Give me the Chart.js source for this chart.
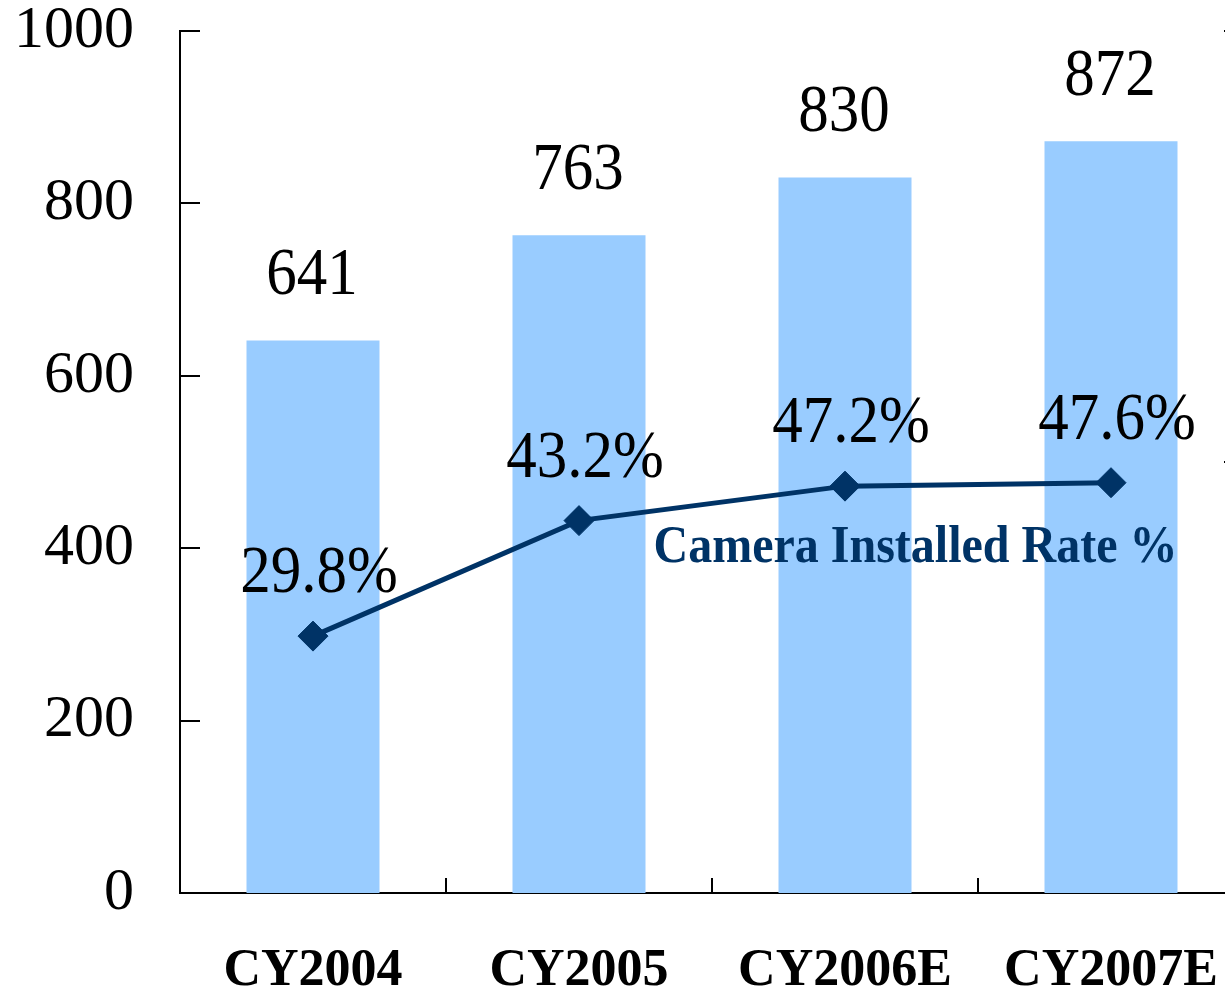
<!DOCTYPE html>
<html>
<head>
<meta charset="utf-8">
<script src="https://cdn.jsdelivr.net/npm/chart.js@4/dist/chart.umd.min.js"></script>
<style>
	html, body { margin: 0; padding: 0; overflow: hidden; background: #fff; }
	#chart-camera { position: absolute; left: 0; top: 0; }
</style>
</head>
<body>
<canvas id="chart-camera" width="1262" height="989"></canvas>
<script>
'use strict';

//
// Data
//

var categories = ['CY2004', 'CY2005', 'CY2006E', 'CY2007E'];
var shipments = [641, 763, 830, 872];
var cameraRate = [29.8, 43.2, 47.2, 47.6];
var leftTicks = [0, 200, 400, 600, 800, 1000];
var rightTicks = [0, 50, 100];
var rateLabel = 'Camera Installed Rate %';

var barColor = '#99CCFF';
var lineColor = '#003366';
var serif = '"Liberation Serif", "Times New Roman", serif';

//
// Inward tick marks (the chart draws them on the inner side of the axes)
//

var innerTicks = {
	id: 'innerTicks',
	afterDatasetsDraw: function(chart) {
		var ctx = chart.ctx;
		var x = chart.scales.x, y = chart.scales.y, y1 = chart.scales.y1;
		ctx.save();
		ctx.strokeStyle = '#000';
		ctx.lineWidth = 2;
		ctx.beginPath();
		leftTicks.forEach(function(v) {
			var py = Math.round(y.getPixelForValue(v));
			ctx.moveTo(x.left, py);
			ctx.lineTo(x.left + 20, py);
		});
		rightTicks.forEach(function(v) {
			var py = Math.round(y1.getPixelForValue(v));
			ctx.moveTo(x.right, py);
			ctx.lineTo(x.right - 20, py);
		});
		for (var i = 0; i < categories.length - 1; i++) {
			var px = Math.round((x.getPixelForValue(i) + x.getPixelForValue(i + 1)) / 2);
			ctx.moveTo(px, y.bottom);
			ctx.lineTo(px, y.bottom - 15);
		}
		ctx.stroke();
		ctx.restore();
	}
};

//
// Value labels (the original text is a bit taller than wide, so stretch it a little)
//

function tallText(ctx, text, x, y) {
	ctx.save();
	ctx.translate(x, y);
	ctx.scale(1, 1.12);
	ctx.fillText(text, 0, 0);
	ctx.restore();
}

var valueLabels = {
	id: 'valueLabels',
	afterDatasetsDraw: function(chart) {
		var ctx = chart.ctx;
		var lineMeta = chart.getDatasetMeta(0);
		var barMeta = chart.getDatasetMeta(1);
		ctx.save();
		ctx.textAlign = 'center';
		ctx.textBaseline = 'middle';
		ctx.fillStyle = '#000';
		ctx.font = '61px ' + serif;

		barMeta.data.forEach(function(bar, i) {
			tallText(ctx, String(shipments[i]), bar.x - 1, bar.y - 64);
		});
		lineMeta.data.forEach(function(pt, i) {
			tallText(ctx, cameraRate[i].toFixed(1) + '%', pt.x + 6, pt.y - 62);
		});

		var x = chart.scales.x, y = chart.scales.y;
		ctx.font = 'bold 48px ' + serif;
		ctx.fillStyle = lineColor;
		tallText(ctx, rateLabel, x.getPixelForValue(2.265), y.getPixelForValue(400));
		ctx.restore();
	}
};

function noPadding(scale) {
	scale.paddingTop = 0;
	scale.paddingBottom = 0;
	scale.paddingLeft = 0;
	scale.paddingRight = 0;
}

//
// Chart
//

var CameraChart = (function() {

	var $chart = document.getElementById('chart-camera');

	function init($this) {
		return new Chart($this, {
			data: {
				labels: categories,
				datasets: [{
					type: 'line',
					label: rateLabel,
					data: cameraRate,
					yAxisID: 'y1',
					borderColor: lineColor,
					borderWidth: 5,
					pointStyle: 'rectRot',
					pointRadius: 15,
					pointBackgroundColor: lineColor,
					pointBorderColor: lineColor,
					pointBorderWidth: 1,
					tension: 0,
					order: 0
				}, {
					type: 'bar',
					label: 'Shipments',
					data: shipments,
					yAxisID: 'y',
					backgroundColor: barColor,
					barPercentage: 0.5,
					categoryPercentage: 1.0,
					order: 1
				}]
			},
			options: {
				responsive: false,
				animation: false,
				layout: { padding: { top: 31, right: 0, left: 0, bottom: 0 } },
				plugins: {
					legend: { display: false },
					tooltip: { enabled: false }
				},
				scales: {
					x: {
						offset: true,
						grid: { display: false, drawTicks: false },
						border: { display: true, color: '#000', width: 2 },
						ticks: {
							color: '#000',
							padding: 47,
							font: { family: serif, size: 52, weight: 'bold' }
						},
						afterFit: function(scale) { noPadding(scale); scale.height = 96; }
					},
					y: {
						position: 'left',
						min: 0,
						max: 1000,
						afterBuildTicks: function(scale) {
							scale.ticks = leftTicks.map(function(v) { return { value: v }; });
						},
						grid: { display: false, drawTicks: false },
						border: { display: true, color: '#000', width: 2 },
						ticks: {
							color: '#000',
							padding: 46,
							font: { family: serif, size: 60 },
							callback: function(v) { return String(v); }
						},
						afterFit: function(scale) { noPadding(scale); scale.width = 180; }
					},
					y1: {
						position: 'right',
						min: 0,
						max: 100,
						afterBuildTicks: function(scale) {
							scale.ticks = rightTicks.map(function(v) { return { value: v }; });
						},
						grid: { display: false, drawTicks: false },
						border: { display: true, color: '#000', width: 2 },
						ticks: { display: false },
						afterFit: function(scale) { noPadding(scale); scale.width = 18; }
					}
				}
			},
			plugins: [innerTicks, valueLabels]
		});
	}

	if ($chart) {
		init($chart);
	}

})();
</script>
</body>
</html>
